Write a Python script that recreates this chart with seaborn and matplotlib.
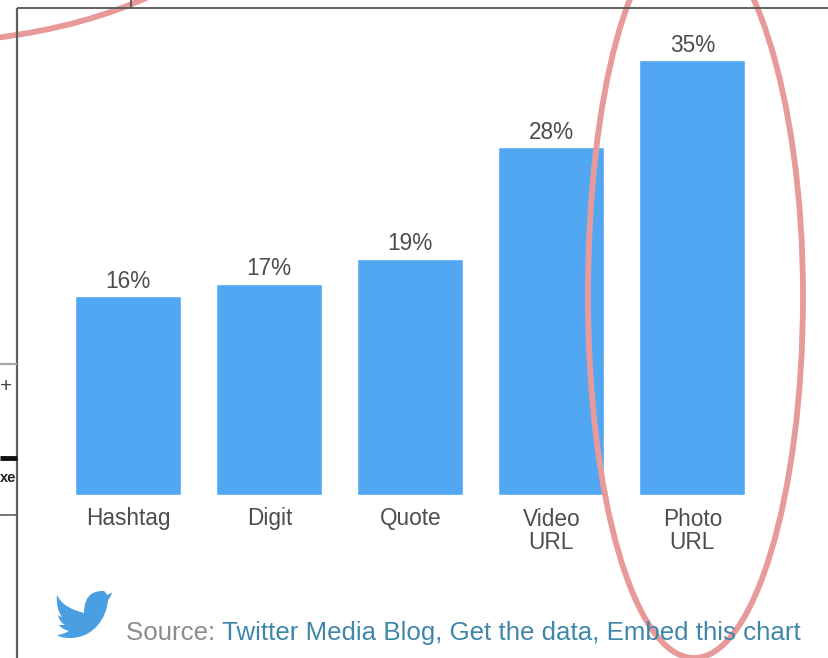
import matplotlib
matplotlib.use("Agg")
import matplotlib.pyplot as plt
import seaborn as sns
from matplotlib.patches import PathPatch
from matplotlib.path import Path

categories = ["Hashtag", "Digit", "Quote", "Video\nURL", "Photo\nURL"]
shares = [16, 17, 19, 28, 35]
source_parts = [("Source: ", "#8c8c8c"), ("Twitter Media Blog, Get the data, Embed this chart", "#3f86ab")]

W, H = 829, 658
sns.set_theme(style="white")
plt.rcParams["font.family"] = ["Liberation Sans", "DejaVu Sans"]

fig = plt.figure(figsize=(W / 100, H / 100), dpi=100, facecolor="white")

# Full-figure layer in pixel units for the frame, logo and annotations
over = fig.add_axes([0, 0, 1, 1], zorder=3)
over.set_xlim(0, W)
over.set_ylim(H, 0)
over.axis("off")
over.patch.set_alpha(0)

# Bar panel
left, right, top, bottom = 57.8, 762.8, 60, 495
ax = fig.add_axes([left / W, 1 - bottom / H, (right - left) / W, (bottom - top) / H], zorder=2)
ax.patch.set_alpha(0)
sns.barplot(x=categories, y=shares, color="#52a7f2", saturation=1, width=0.75, ax=ax)
ax.set_xlim(-0.5, 4.5)
ax.set_ylim(0, 35)
sns.despine(ax=ax, left=True, bottom=True, top=True, right=True)
ax.set_yticks([])
ax.tick_params(axis="x", length=0, pad=9, labelsize=16.3, labelcolor="#4d4d4d")
for label in ax.get_xticklabels():
    label.set_linespacing(1.05)
ax.bar_label(ax.containers[0], labels=[f"{v}%" for v in shares], padding=2.5,
             fontsize=16.3, color="#4d4d4d", clip_on=False)

# Page frame and the cropped page fragments on the left
frame = "#5f5f5f"
over.plot([17, 17], [8, H], color=frame, lw=1.6, solid_capstyle="butt")
over.plot([17, W], [8, 8], color=frame, lw=1.4, solid_capstyle="butt")
over.plot([131, 131], [0, 8], color=frame, lw=1.4, solid_capstyle="butt")
over.plot([0, 17], [364, 364], color="#a8a8a8", lw=1.6, solid_capstyle="butt")
over.plot([0, 17], [458, 458], color="#111111", lw=3.5, solid_capstyle="butt")
over.plot([0, 17], [515, 515], color=frame, lw=1.2, solid_capstyle="butt")
over.text(0, 387, "+", fontsize=15, color="#444444", va="center", ha="left")
over.text(16.5, 478, "xe", fontsize=10.5, color="#222222", fontweight="bold", va="center", ha="right")

# Bird logo, one cubic segment per outline stretch
bird_start = (57, 595)
bird_segments = [
    [(63, 607), (74, 610), (84, 613)],
    [(84, 592), (97, 591), (103, 591)],
    [(105, 591), (106, 593), (107, 595)],
    [(109, 594), (110, 594), (112, 592)],
    [(111, 596), (110, 598), (108, 600)],
    [(107, 617), (94, 638), (70, 638)],
    [(63, 638), (60, 637), (57, 635)],
    [(61, 635), (65, 633), (69, 631)],
    [(65, 630), (61, 628), (59, 625)],
    [(61, 625), (63, 625), (65, 625)],
    [(61, 623), (59, 619), (58, 615)],
    [(59, 616), (61, 617), (62, 617)],
    [(58, 612), (56, 603), (57, 595)],
]
bird_verts = [bird_start] + [p for seg in bird_segments for p in seg]
bird_codes = [Path.MOVETO] + [Path.CURVE4] * (len(bird_verts) - 1)
over.add_patch(PathPatch(Path(bird_verts, bird_codes), facecolor="#4a9fe3", edgecolor="none"))

# Source line, assembled piece by piece
renderer = fig.canvas.get_renderer()
x = 126
for part, colour in source_parts:
    over.text(x, 640, part, fontsize=18.65, color=colour, ha="left", va="baseline")
    probe = over.text(x, 640, part.replace(" ", "|"), fontsize=18.65, alpha=0)
    x = over.transData.inverted().transform(probe.get_window_extent(renderer))[1][0]
    probe.remove()

# Hand-drawn highlight strokes
stroke = "#e89a9a"
loop = Path([(588, 296), (588, 496), (634, 658), (694, 658),
             (754, 658), (803, 496), (803, 296),
             (803, 96), (750, -66), (690, -66),
             (630, -66), (588, 96), (588, 296)],
            [Path.MOVETO] + [Path.CURVE4] * 12)
over.add_patch(PathPatch(loop, fill=False, edgecolor=stroke, lw=4.2))
arc = Path([(-5, 38), (85, 27), (155, -6)], [Path.MOVETO, Path.CURVE3, Path.CURVE3])
over.add_patch(PathPatch(arc, fill=False, edgecolor=stroke, lw=4.2))

fig.savefig("out.png", dpi=100)
